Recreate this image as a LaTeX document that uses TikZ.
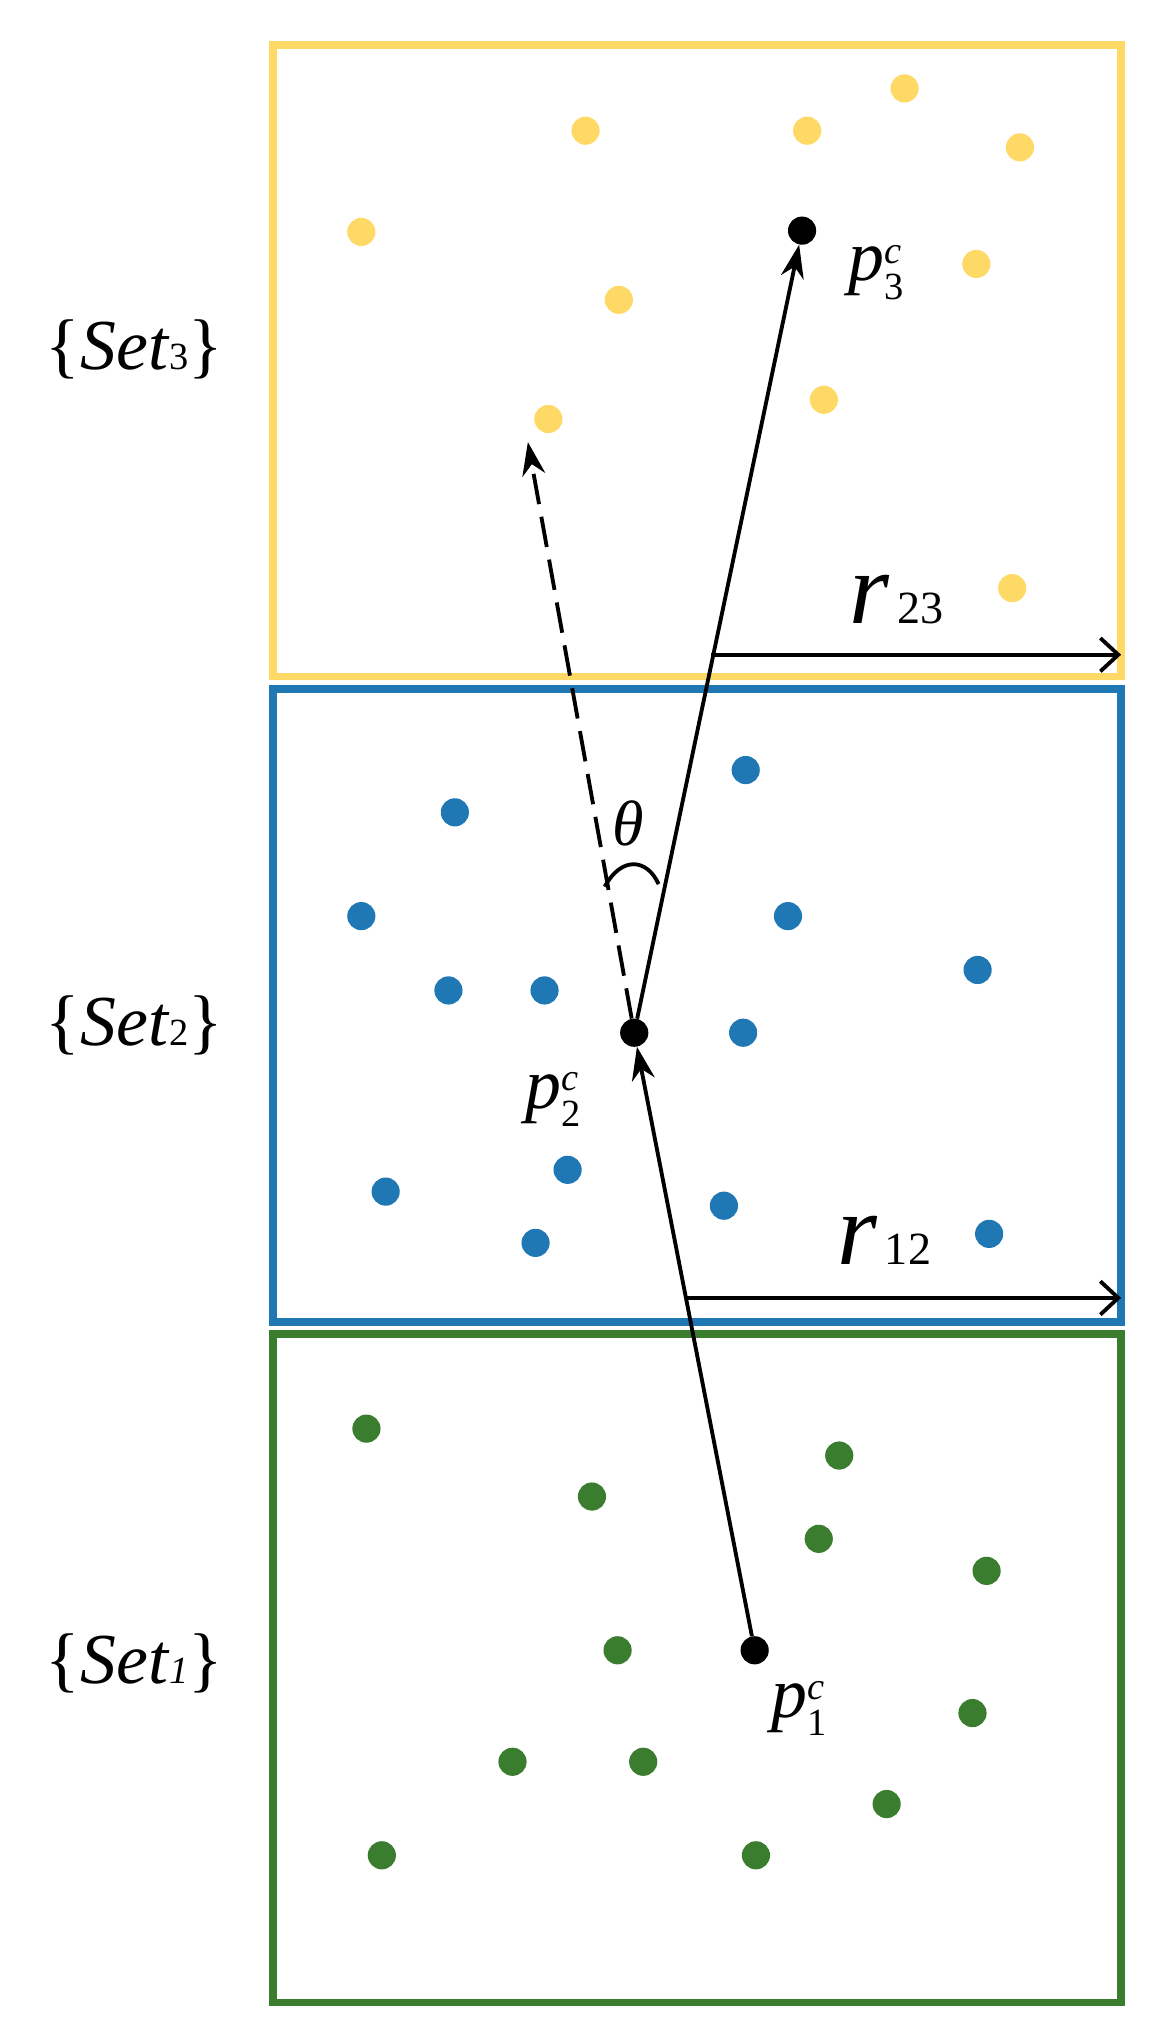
\documentclass[tikz,border=0pt]{standalone}
\usepackage{fontspec}
\setmainfont{Liberation Serif}
\usetikzlibrary{arrows.meta}
\definecolor{cy}{HTML}{FFD966}
\definecolor{cb}{HTML}{1F78B4}
\definecolor{cg}{HTML}{3B7D2E}
\newcommand{\pc}[1]{\textit{p}\raisebox{0pt}[0pt][0pt]{\fontsize{30}{32}\selectfont\begin{tabular}[c]{@{}l@{}}\textit{c}\\[-4pt]#1\end{tabular}}}
\begin{document}
\begin{tikzpicture}[x=1pt,y=-1pt,
  box/.style={line width=6pt},
  dot/.style={circle,inner sep=0pt,minimum size=22pt},
  lab/.style={font=\fontsize{56}{60}\selectfont},
  arr/.style={line width=3pt,-{Stealth[length=26pt,width=18pt]}}]
\useasboundingbox (0,0) rectangle (908,1575);
\draw[box,cy] (213,35) rectangle (875,528);
\draw[box,cb] (213,538) rectangle (875,1032);
\draw[box,cg] (213,1041) rectangle (875,1563);
\foreach \x/\y [count=\i] in {457/102,630/102,706/69,796/115,282/181,483/234,762/206,643/312,428/327,790/459}
  \node[dot,fill=cy] (y\i) at (\x,\y) {};
\foreach \x/\y [count=\i] in {582/601,355/634,282/715,615/715,763/757,350/773,425/773,580/806,443/913,301/930,565/941,418/970,772/963}
  \node[dot,fill=cb] (b\i) at (\x,\y) {};
\foreach \x/\y [count=\i] in {286/1115,655/1136,462/1168,639/1201,770/1226,482/1288,759/1337,400/1375,502/1375,692/1408,298/1448,590/1448}
  \node[dot,fill=cg] (g\i) at (\x,\y) {};
\node[dot,fill=black] (p1) at (589,1288) {};
\node[dot,fill=black] (p2) at (495,806) {};
\node[dot,fill=black] (p3) at (626,180) {};
\coordinate (d) at (412,345);
\draw[arr] (p1) -- (p2);
\draw[arr] (p2) -- (p3);
\draw[arr,dash pattern=on 24pt off 10pt] (p2) -- (d);
\draw[line width=3pt] (472,692) .. controls (485,668) and (505,670) .. (514,690);
\node[font=\fontsize{50}{54}\selectfont] (th) at (490,643) {\textit{θ}};
\coordinate (r23a) at (555,511); \coordinate (r23b) at (875,511);
\coordinate (r12a) at (535,1013); \coordinate (r12b) at (875,1013);
\draw[line width=3pt,-{Straight Barb[length=14pt,width=26pt]}] (r23a) -- (r23b);
\draw[line width=3pt,-{Straight Barb[length=14pt,width=26pt]}] (r12a) -- (r12b);
\node[font=\fontsize{80}{84}\selectfont] (r23) at (700,468) {\textit{r}\fontsize{36}{40}\selectfont\,23};
\node[font=\fontsize{80}{84}\selectfont] (r12) at (690,968) {\textit{r}\fontsize{36}{40}\selectfont\,12};
\node[lab] (l3) at (684,212) {\pc{3}};
\node[lab] (l2) at (432,858) {\pc{2}};
\node[lab] (l1) at (624,1333) {\pc{1}};
\node[lab] (s3) at (105,273) {\{\textit{Set}{\fontsize{30}{32}\selectfont 3}\}};
\node[lab] (s2) at (105,800) {\{\textit{Set}{\fontsize{30}{32}\selectfont 2}\}};
\node[lab] (s1) at (105,1298) {\{\textit{Set}{\fontsize{30}{32}\selectfont\textit{1}}\}};
\end{tikzpicture}
\end{document}
